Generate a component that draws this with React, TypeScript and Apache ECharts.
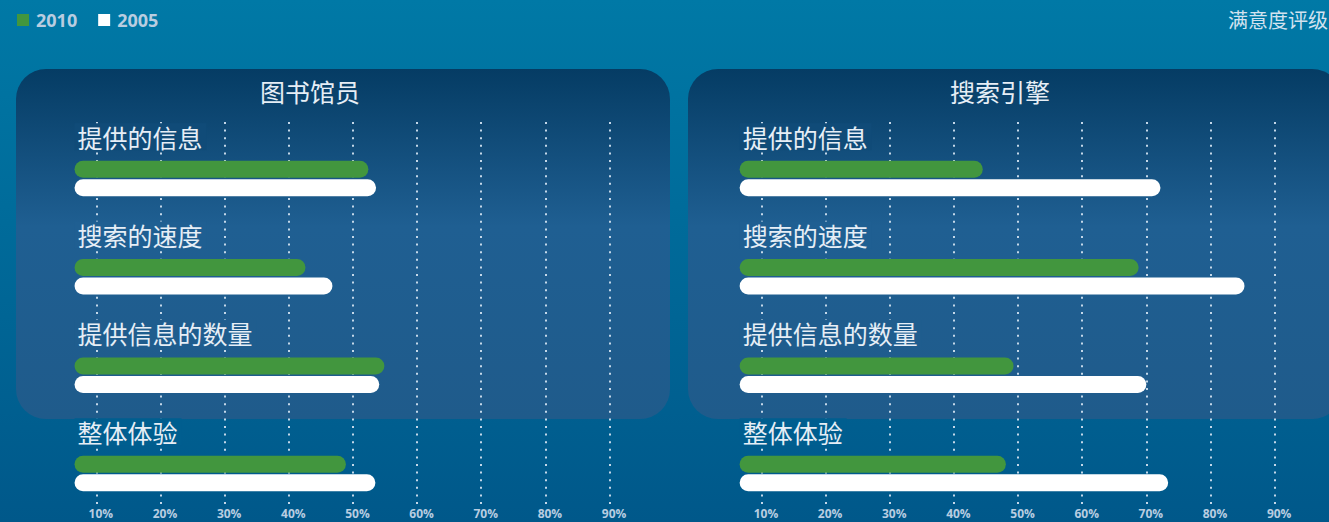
import React, { useEffect, useRef } from 'react';
import * as echarts from 'echarts';

// ---------- data ----------
const categories = ['提供的信息', '搜索的速度', '提供信息的数量', '整体体验'];
const seriesNames = ['2010', '2005'];
const panelTitles = ['图书馆员', '搜索引擎'];
const librarian2010 = [52.4, 42.6, 54.9, 48.9];
const librarian2005 = [53.6, 46.8, 54.1, 53.5];
const engine2010 = [44.5, 68.8, 49.3, 48.1];
const engine2005 = [72.2, 85.3, 70.0, 73.4];
const axisMin = 0;
const axisMax = 100;
const axisInterval = 10;
const barBaseValue = 6.6;
const unitLabel = '满意度评级';

// ---------- style / layout ----------
const W = 1329;
const H = 522;
const GREEN = '#42963e';
const WHITE = '#ffffff';
const LABEL_COLOR = '#e6eef6';
const TICK_COLOR = '#b8cde1';
const CJK = '"Noto Sans CJK SC", "Noto Sans", sans-serif';

const PANEL_Y = 69;
const PANEL_H = 350;
const PANEL_W = 654;
const PANEL_R = 30;
const PX_PER_UNIT = 6.415;
const TICK_TOP = 122;
const TICK_H = 382;
const BAND = 98.33;
const BAND_TOP = 178.5 - BAND / 2;
const BAR_W = 17;
const BAR_GAP_PX = 1.5;
const LABEL_DY = -24;

const pageStops: [number, string][] = [[0, '#0079a6'], [1, '#00588a']];
const panelStops: [number, string][] = [[0, '#053c64'], [0.45, '#1f5f92'], [1, '#1f5b8b']];

const panels = [
  { rectX: 16, zeroX: 32.2, titleX: 310, title: panelTitles[0], v2010: librarian2010, v2005: librarian2005 },
  { rectX: 688, zeroX: 697.3, titleX: 1000, title: panelTitles[1], v2010: engine2010, v2005: engine2005 },
];

function hexToRgb(h: string) {
  const n = parseInt(h.slice(1), 16);
  return [(n >> 16) & 255, (n >> 8) & 255, n & 255];
}
function colorAt(stops: [number, string][], t: number) {
  t = Math.max(0, Math.min(1, t));
  for (let i = 0; i < stops.length - 1; i++) {
    const [t0, c0] = stops[i];
    const [t1, c1] = stops[i + 1];
    if (t >= t0 && t <= t1) {
      const f = (t - t0) / (t1 - t0);
      const a = hexToRgb(c0);
      const b = hexToRgb(c1);
      const r = a.map((v, k) => Math.round(v + (b[k] - v) * f));
      return `rgb(${r[0]},${r[1]},${r[2]})`;
    }
  }
  return stops[stops.length - 1][1];
}
function gradient(stops: [number, string][]) {
  return {
    type: 'linear', x: 0, y: 0, x2: 0, y2: 1,
    colorStops: stops.map(([offset, color]) => ({ offset, color })),
  };
}

function labelBg(row: number) {
  const center = BAND_TOP + BAND * (row + 0.5);
  const greenTop = center - (2 * BAR_W + BAR_GAP_PX) / 2;
  const y = greenTop + LABEL_DY;
  if (y < PANEL_Y + PANEL_H - 2) return colorAt(panelStops, (y - PANEL_Y) / PANEL_H);
  return colorAt(pageStops, y / H);
}

function buildOption() {
  const grid: any[] = [];
  const xAxis: any[] = [];
  const yAxis: any[] = [];
  const series: any[] = [];

  panels.forEach((p, i) => {
    const fullW = (axisMax - axisMin) * PX_PER_UNIT;
    grid.push({ left: p.zeroX, top: TICK_TOP, width: fullW, height: TICK_H, outerBoundsMode: 'none', containLabel: false });
    xAxis.push({
      type: 'value', gridIndex: i, min: axisMin, max: axisMax, interval: axisInterval,
      axisLine: { show: false }, axisTick: { show: false },
      splitLine: {
        show: true, showMinLine: false, showMaxLine: false,
        lineStyle: { type: [2, 5.6], width: 2, color: 'rgba(205,222,238,0.95)' },
      },
      axisLabel: {
        show: true, showMinLabel: false, showMaxLabel: false,
        formatter: (v: number) => (v > axisMin && v < axisMax ? `${v}%` : ''),
        color: TICK_COLOR, fontSize: 12, fontWeight: 'bold',
        fontFamily: '"Liberation Sans Narrow", "Open Sans", sans-serif',
        margin: 3, padding: [0, 0, 0, 9],
      },
    });
    yAxis.push({ type: 'value', gridIndex: i, show: false });
  });

  panels.forEach((p, i) => {
    const gi = panels.length + i;
    const left = p.zeroX + (barBaseValue - axisMin) * PX_PER_UNIT;
    const width = (axisMax - barBaseValue) * PX_PER_UNIT;
    grid.push({ left, top: BAND_TOP, width, height: BAND * categories.length, outerBoundsMode: 'none', containLabel: false });
    xAxis.push({ type: 'value', gridIndex: gi, min: barBaseValue, max: axisMax, show: false });
    yAxis.push({ type: 'category', gridIndex: gi, data: categories, inverse: true, show: false });
    series.push({
      name: seriesNames[0], type: 'bar', xAxisIndex: gi, yAxisIndex: gi,
      barWidth: BAR_W, barGap: `${(BAR_GAP_PX / BAR_W) * 100}%`,
      itemStyle: { color: GREEN, borderRadius: BAR_W / 2 },
      label: {
        show: true, formatter: '{b}', position: [0, LABEL_DY], align: 'left', verticalAlign: 'middle',
        color: LABEL_COLOR, fontSize: 25, fontFamily: CJK, padding: [0, 4, 2, 3],
      },
      data: p.v2010.map((v, r) => ({ value: v, label: { backgroundColor: labelBg(r) } })),
    });
    series.push({
      name: seriesNames[1], type: 'bar', xAxisIndex: gi, yAxisIndex: gi,
      barWidth: BAR_W, barGap: `${(BAR_GAP_PX / BAR_W) * 100}%`,
      itemStyle: { color: WHITE, borderRadius: BAR_W / 2 },
      data: p.v2005,
    });
  });

  const graphic: any[] = [
    { type: 'rect', z: -20, silent: true, shape: { x: 0, y: 0, width: W, height: H }, style: { fill: gradient(pageStops) } },
  ];
  panels.forEach((p) => {
    graphic.push({
      type: 'rect', z: -10, silent: true,
      shape: { x: p.rectX, y: PANEL_Y, width: PANEL_W, height: PANEL_H, r: PANEL_R },
      style: { fill: gradient(panelStops) },
    });
    graphic.push({
      type: 'text', z: 10, silent: true, x: p.titleX, y: 91,
      style: {
        text: p.title, fill: LABEL_COLOR, font: `25px ${CJK}`,
        align: 'center', verticalAlign: 'middle', textAlign: 'center', textVerticalAlign: 'middle',
      },
    });
  });
  graphic.push({
    type: 'text', z: 10, silent: true, x: W - 1, y: 19,
    style: {
      text: unitLabel, fill: '#d2e2ef', font: `20px ${CJK}`,
      align: 'right', verticalAlign: 'middle', textAlign: 'right', textVerticalAlign: 'middle',
    },
  });

  return {
    animation: false,
    backgroundColor: 'transparent',
    textStyle: { fontFamily: CJK },
    legend: {
      data: seriesNames, left: 17, top: 11, padding: 0, orient: 'horizontal',
      icon: 'rect', itemWidth: 12, itemHeight: 12, itemGap: 21,
      textStyle: { color: '#b9cde0', fontSize: 18, fontWeight: 'bold', fontFamily: '"Open Sans", sans-serif', padding: [0, 0, 0, 2] },
      selectedMode: false,
    },
    tooltip: { show: false },
    grid, xAxis, yAxis, series, graphic,
  };
}

export default function App() {
  const ref = useRef<HTMLDivElement>(null);
  useEffect(() => {
    if (!ref.current) return;
    document.body.style.margin = '0';
    document.documentElement.style.margin = '0';
    const chart = echarts.init(ref.current, undefined, { renderer: 'svg' });
    chart.setOption(buildOption() as any);
    return () => chart.dispose();
  }, []);
  return <div ref={ref} style={{ width: W, height: H, margin: 0 }} />;
}
